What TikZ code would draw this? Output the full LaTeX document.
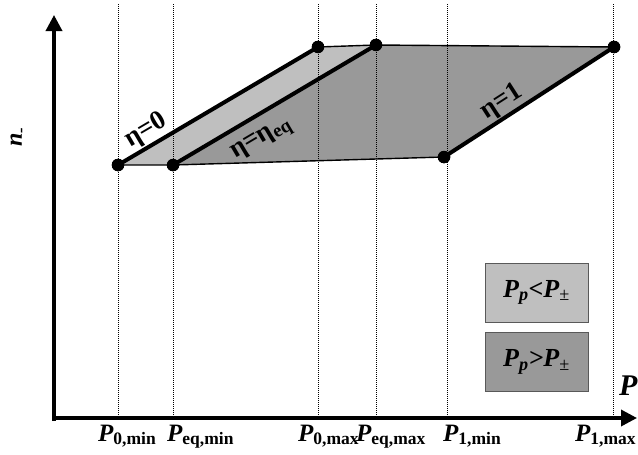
\documentclass[tikz,border=0pt]{standalone}
\usepackage{fontspec}
\setmainfont{Liberation Serif}
\usetikzlibrary{arrows.meta}
\definecolor{lightfill}{gray}{0.75}
\definecolor{darkfill}{gray}{0.6}
\definecolor{keyline}{gray}{0.35}

\begin{document}
\begin{tikzpicture}[x=1pt, y=-1pt,
  axis/.style={line width=3.5pt, -{Triangle[length=16pt, width=16pt]}},
  guide/.style={line width=0.8pt, dash pattern=on 1pt off 1pt},
  rim/.style={line width=1.4pt},
  edge/.style={line width=4pt},
  dot/.style={circle, fill=black, inner sep=0pt, minimum size=12.5pt},
  tick/.style={anchor=base west, inner sep=0pt, font=\fontsize{25}{28}\selectfont\bfseries\itshape},
  eta/.style={inner sep=0pt, font=\fontsize{27}{29}\selectfont\bfseries},
  key/.style={draw=keyline, line width=0.8pt, minimum width=103pt, minimum height=59pt,
    font=\fontsize{26}{28}\selectfont\bfseries\itshape}
]
  \useasboundingbox (0,0) rectangle (638,455);

  \coordinate (o)    at (54,418);
  \coordinate (ylow) at (54,421);
  \coordinate (ytip) at (54,15);
  \coordinate (xtip) at (637,418);

  \node[dot] (a0lo) at (118,165) {};
  \node[dot] (aeqlo) at (173,165) {};
  \node[dot] (a1lo) at (444,157) {};
  \node[dot] (a0hi) at (318,47) {};
  \node[dot] (aeqhi) at (376,45) {};
  \node[dot] (a1hi) at (614,47) {};

  \fill[lightfill] (a0lo.center) -- (a0hi.center) -- (aeqhi.center) -- (aeqlo.center) -- cycle;
  \fill[darkfill] (aeqlo.center) -- (aeqhi.center) -- (a1hi.center) -- (a1lo.center) -- cycle;

  \foreach \name/\xpos in {g0lo/118, geqlo/173, g0hi/318, geqhi/376, g1lo/447, g1hi/613}
    \coordinate (\name) at (\xpos,4);
  \foreach \name in {g0lo, geqlo, g0hi, geqhi, g1lo, g1hi}
    \draw[guide] (\name) -- (\name |- o);

  \draw[rim] (a0lo.center) -- (aeqlo.center) -- (a1lo.center);
  \draw[rim] (a0hi.center) -- (aeqhi.center) -- (a1hi.center);

  \draw[edge] (a0lo.center) -- (a0hi.center);
  \draw[edge] (aeqlo.center) -- (aeqhi.center);
  \draw[edge] (a1lo.center) -- (a1hi.center);

  \node[dot] at (a0lo) {};
  \node[dot] at (aeqlo) {};
  \node[dot] at (a1lo) {};
  \node[dot] at (a0hi) {};
  \node[dot] at (aeqhi) {};
  \node[dot] at (a1hi) {};

  \draw[axis] (ylow) -- (ytip);
  \draw[axis] (o) -- (xtip);

  \node[eta, rotate=30.5] (eta0) at (146,131) {η=0};
  \node[eta, rotate=30.6] (etaeq) at (262,140) {η=η\textsubscript{eq}};
  \node[eta, rotate=32.7] (eta1) at (502,102) {η=1};

  \node[key, fill=lightfill] (keylo) at (536.5,292.5) {P\textsubscript{p}<P\textsubscript{\upshape\mdseries ±}};
  \node[key, fill=darkfill] (keyhi) at (536.5,362) {P\textsubscript{p}>P\textsubscript{\upshape\mdseries ±}};

  \node[tick] (p0min) at (98,441) {P\textsubscript{\upshape 0,min}};
  \node[tick] (peqmin) at (167,441) {P\textsubscript{\upshape eq,min}};
  \node[tick] (p0max) at (298,441) {P\textsubscript{\upshape 0,max}};
  \node[tick] (peqmax) at (356,441) {P\textsubscript{\upshape eq,max}};
  \node[tick] (p1min) at (443,441) {P\textsubscript{\upshape 1,min}};
  \node[tick] (p1max) at (575,441) {P\textsubscript{\upshape 1,max}};

  \node[tick, font=\fontsize{30}{32}\selectfont\bfseries\itshape] (xlabel) at (619,395) {P};
  \node[tick, anchor=center, rotate=90, font=\fontsize{24}{26}\selectfont\bfseries\itshape] (ylabel) at (18,137) {n\textsubscript{-}};
\end{tikzpicture}
\end{document}
